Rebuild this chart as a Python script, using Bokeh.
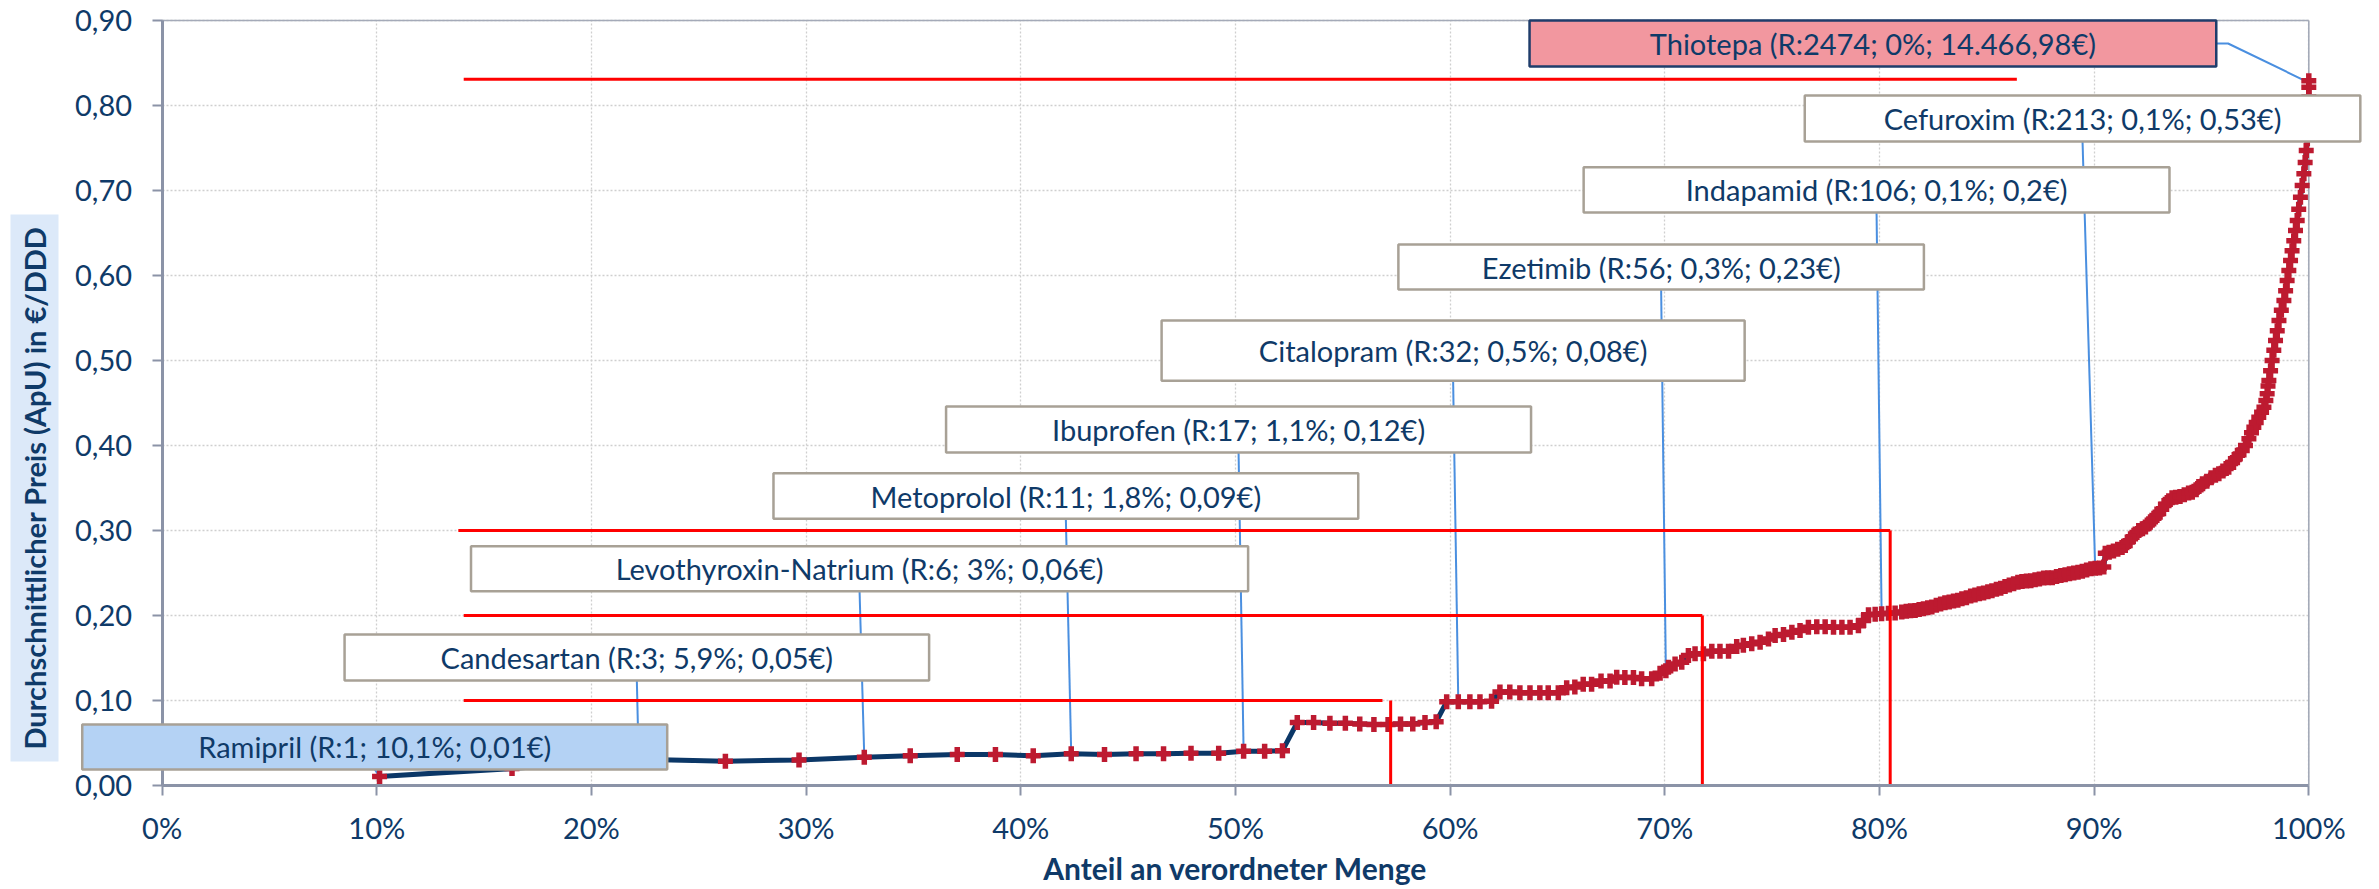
import math
from bokeh.plotting import figure
from bokeh.models import Range1d, FixedTicker, Label, BoxAnnotation
from bokeh.embed import file_html
from bokeh.resources import INLINE

# ---------------- data ----------------
share_pct = [
    10.13, 16.3, 22.2, 26.24, 29.67, 32.71, 34.85, 37.04, 38.82, 40.58, 42.35, 43.9,
    45.37, 46.65, 47.93, 49.22, 50.38, 51.36, 52.19,
    52.88, 53.64, 54.4, 55.12, 55.79, 56.45, 57.11, 57.69, 58.26, 58.83, 59.35,
    59.84, 60.38, 60.92, 61.39, 61.93,
    62.32, 62.78, 63.25, 63.72, 64.18, 64.57, 65.04,
    65.43, 65.81, 66.2, 66.59, 67.03, 67.45, 67.76, 68.14, 68.54, 68.92, 69.39,
    69.78, 70.05, 70.17, 70.48, 70.79, 71.1, 71.41, 71.8, 72.19, 72.57, 72.97,
    73.35, 73.66, 74.05, 74.44, 74.83, 75.14, 75.53, 75.92, 76.3, 76.69, 77.08,
    77.47, 77.86, 78.25, 78.63, 79.02, 79.26, 79.49, 79.8, 80.1, 80.42, 80.73,
    81.04, 81.25, 81.45, 81.66, 81.85, 82.05, 82.25, 82.44, 82.65, 82.85, 83.05,
    83.25, 83.45, 83.65, 83.84, 84.05, 84.25, 84.45, 84.65, 84.85, 85.05, 85.24,
    85.45, 85.65, 85.85, 86.05, 86.25, 86.45, 86.64, 86.85, 87.05, 87.25, 87.45,
    87.65, 87.85, 88.05, 88.25, 88.45, 88.65, 88.85, 89.05, 89.25, 89.45, 89.65,
    89.85, 90.05, 90.25, 90.45,
    90.52, 90.7, 90.9, 91.1, 91.3, 91.45, 91.6, 91.77, 91.92, 92.08, 92.25, 92.39,
    92.55, 92.7, 92.85, 93.01, 93.15, 93.32, 93.48, 93.63, 93.8, 94.0, 94.2, 94.4,
    94.57, 94.75, 94.88, 95.05, 95.25, 95.45, 95.65, 95.81, 96.0, 96.15, 96.27,
    96.45, 96.58, 96.75, 96.9, 97.05, 97.21, 97.33, 97.44, 97.55, 97.67, 97.8,
    97.91, 98.0, 98.06,
    98.1, 98.14, 98.22, 98.29, 98.37, 98.45, 98.53, 98.61, 98.72, 98.84, 98.92,
    98.99, 99.07, 99.15, 99.22, 99.3, 99.38, 99.46, 99.53, 99.61, 99.69, 99.77,
    99.83, 99.88, 99.93, 99.97, 99.99, 100.0, 100.0, 100.0, 100.0,
]
price_eur = [
    0.0106, 0.020, 0.031, 0.0286, 0.030, 0.0333, 0.035, 0.0365, 0.0365, 0.035, 0.0373, 0.0365,
    0.0373, 0.0373, 0.038, 0.038, 0.0404, 0.0404, 0.041,
    0.0741, 0.0741, 0.0733, 0.0733, 0.0725, 0.0718, 0.0718, 0.0725, 0.0725, 0.0741, 0.075,
    0.0985, 0.0984, 0.0984, 0.0984, 0.099,
    0.110, 0.110, 0.109, 0.109, 0.109, 0.109, 0.109,
    0.115, 0.116, 0.119, 0.119, 0.123, 0.123, 0.1275, 0.127, 0.127, 0.1255, 0.1255,
    0.132, 0.135, 0.139, 0.143, 0.145, 0.153, 0.155, 0.155, 0.158, 0.158, 0.158,
    0.1635, 0.165, 0.1667, 0.1686, 0.1725, 0.1765, 0.1776, 0.1804, 0.1824, 0.1863, 0.1867,
    0.1867, 0.1863, 0.1863, 0.1863, 0.188, 0.194, 0.201, 0.2016, 0.202, 0.2027, 0.203,
    0.204, 0.205, 0.2055, 0.206, 0.207, 0.208, 0.209, 0.210, 0.212, 0.2135, 0.215,
    0.216, 0.217, 0.218, 0.2196, 0.221, 0.223, 0.224, 0.2255, 0.2265, 0.228, 0.229,
    0.231, 0.232, 0.234, 0.236, 0.2375, 0.239, 0.240, 0.2405, 0.241, 0.242, 0.243,
    0.244, 0.2443, 0.2445, 0.246, 0.247, 0.248, 0.249, 0.250, 0.251, 0.252, 0.2535,
    0.255, 0.2555, 0.256, 0.257,
    0.2733, 0.2745, 0.276, 0.278, 0.280, 0.2824, 0.287, 0.292, 0.296, 0.300, 0.302, 0.304,
    0.308, 0.312, 0.316, 0.320, 0.325, 0.331, 0.335, 0.3385, 0.339, 0.340, 0.342, 0.344,
    0.345, 0.348, 0.3518, 0.355, 0.358, 0.362, 0.365, 0.3667, 0.370, 0.373, 0.3745,
    0.380, 0.3843, 0.389, 0.394, 0.400, 0.408, 0.415, 0.4215, 0.427, 0.4333, 0.439,
    0.445, 0.453, 0.4608,
    0.470, 0.4765, 0.488, 0.500, 0.512, 0.5235, 0.535, 0.547, 0.559, 0.5706, 0.582,
    0.594, 0.606, 0.6176, 0.629, 0.641, 0.653, 0.6647, 0.678, 0.692, 0.706, 0.7196,
    0.733, 0.747, 0.761, 0.7745, 0.786, 0.798, 0.810, 0.8215, 0.829,
]

x_ticks = [0, 10, 20, 30, 40, 50, 60, 70, 80, 90, 100]
x_tick_labels = ["0%", "10%", "20%", "30%", "40%", "50%", "60%", "70%", "80%", "90%", "100%"]
y_ticks = [0.0, 0.1, 0.2, 0.3, 0.4, 0.5, 0.6, 0.7, 0.8, 0.9]
y_tick_labels = ["0,00", "0,10", "0,20", "0,30", "0,40", "0,50", "0,60", "0,70", "0,80", "0,90"]

x_title = "Anteil an verordneter Menge"
y_title = "Durchschnittlicher Preis (ApU) in €/DDD"

drug_labels = [
    "Ramipril (R:1; 10,1%; 0,01€)",
    "Candesartan (R:3; 5,9%; 0,05€)",
    "Levothyroxin-Natrium (R:6; 3%; 0,06€)",
    "Metoprolol (R:11; 1,8%; 0,09€)",
    "Ibuprofen (R:17; 1,1%; 0,12€)",
    "Citalopram (R:32; 0,5%; 0,08€)",
    "Ezetimib (R:56; 0,3%; 0,23€)",
    "Indapamid (R:106; 0,1%; 0,2€)",
    "Cefuroxim (R:213; 0,1%; 0,53€)",
    "Thiotepa (R:2474; 0%; 14.466,98€)",
]
label_target_x = [10.13, 22.2, 32.71, 42.35, 50.38, 60.38, 70.05, 80.1, 90.05, 100.0]
label_target_y = [0.0106, 0.031, 0.0333, 0.0373, 0.0404, 0.0984, 0.135, 0.202, 0.2555, 0.827]

# reference lines (price level, start, end, drop-line position)
ref_level = [0.10, 0.20, 0.30, 0.831]
ref_start = [14.05, 14.05, 13.8, 14.05]
ref_end = [56.85, 71.75, 80.5, 86.4]
ref_drop = [57.23, 71.75, 80.5, None]

# ---------------- layout (label boxes, in data units) ----------------
box_left = [-3.72, 8.5, 14.39, 28.48, 36.52, 46.56, 57.59, 66.22, 76.52, 63.7]
box_right = [23.53, 35.73, 50.59, 55.72, 63.77, 73.72, 82.07, 93.51, 102.4, 95.69]
box_bottom = [0.0188, 0.1235, 0.2286, 0.3137, 0.3918, 0.4761, 0.5835, 0.6741, 0.7576, 0.8459]
box_top = [0.0718, 0.1776, 0.2815, 0.3674, 0.4459, 0.547, 0.6365, 0.7274, 0.8118, 0.900]
box_fill = ["#b4d2f4"] + ["#ffffff"] * 8 + ["#f2979f"]
box_line = ["#a8a196"] * 9 + ["#1f3d6b"]

FONT = "Lato"
NAVY = "#0f3a68"
AXIS = "#8b93a7"
BORDER = "#a4aab8"

# the frame covers the whole canvas; axes sit at fixed data locations
W, H = 2379, 889
PX_PER_PCT = 21.467          # horizontal scale
X0_PX = 161.6                # canvas x of 0 %
PX_PER_EUR = 850.0           # vertical scale
Y0_PX = 785.0                # canvas y of 0,00
x_lo = -X0_PX / PX_PER_PCT
x_hi = (W - X0_PX) / PX_PER_PCT
y_lo = -(H - Y0_PX) / PX_PER_EUR
y_hi = Y0_PX / PX_PER_EUR

def px_x(px):
    return (px - X0_PX) / PX_PER_PCT

def px_y(py):
    return (Y0_PX - py) / PX_PER_EUR

p = figure(width=W, height=H, x_range=Range1d(x_lo, x_hi), y_range=Range1d(y_lo, y_hi),
           output_backend="svg", toolbar_location=None,
           min_border_left=0, min_border_right=0, min_border_top=0, min_border_bottom=0)
p.outline_line_color = None
p.background_fill_color = "white"
p.border_fill_color = "white"

xa, ya = p.xaxis[0], p.yaxis[0]
xa.ticker = FixedTicker(ticks=x_ticks)
ya.ticker = FixedTicker(ticks=y_ticks)
xa.major_label_overrides = {t: s for t, s in zip(x_ticks, x_tick_labels)}
ya.major_label_overrides = {t: s for t, s in zip(y_ticks, y_tick_labels)}
xa.bounds = (x_ticks[0], x_ticks[-1])
ya.bounds = (y_ticks[0], y_ticks[-1])
xa.fixed_location = y_ticks[0]
ya.fixed_location = x_ticks[0]
for ax in (xa, ya):
    ax.axis_line_color = AXIS
    ax.axis_line_width = 3
    ax.major_tick_line_color = AXIS
    ax.major_tick_line_width = 2
    ax.major_tick_out = 10
    ax.major_tick_in = 0
    ax.minor_tick_line_color = None
    ax.major_label_text_font = FONT
    ax.major_label_text_font_size = "29px"
    ax.major_label_text_color = NAVY
xa.major_label_standoff = 14
ya.major_label_standoff = 20

xg, yg = p.xgrid[0], p.ygrid[0]
if "cross_bounds" in xg.properties():
    xg.cross_bounds = (y_ticks[0], y_ticks[-1])
    yg.cross_bounds = (x_ticks[0], x_ticks[-1])
    for g in (xg, yg):
        g.grid_line_color = "#cfcfcf"
        g.grid_line_dash = "2 2"
        g.grid_line_width = 1.3
else:
    xg.visible = False
    yg.visible = False
    p.segment(x0=x_ticks, y0=[y_ticks[0]] * len(x_ticks), x1=x_ticks, y1=[y_ticks[-1]] * len(x_ticks),
              line_color="#cfcfcf", line_dash="2 2", line_width=1.3)
    p.segment(x0=[x_ticks[0]] * len(y_ticks), y0=y_ticks, x1=[x_ticks[-1]] * len(y_ticks), y1=y_ticks,
              line_color="#cfcfcf", line_dash="2 2", line_width=1.3)

# plot-area border (top and right)
p.segment(x0=[x_ticks[0], x_ticks[-1]], y0=[y_ticks[-1], y_ticks[0]],
          x1=[x_ticks[-1], x_ticks[-1]], y1=[y_ticks[-1], y_ticks[-1]],
          line_color=BORDER, line_width=1.6)

# leader lines
lx, ly = [], []
for i in range(len(drug_labels)):
    tx, ty = label_target_x[i], label_target_y[i]
    if tx > box_right[i]:
        ym = (box_bottom[i] + box_top[i]) / 2
        lx.append([box_right[i], box_right[i] + 0.55, tx])
        ly.append([ym, ym, ty])
    else:
        cx = (box_left[i] + box_right[i]) / 2
        lx.append([cx, tx])
        ly.append([box_bottom[i], ty])
p.multi_line(lx, ly, line_color="#4a8fe0", line_width=2)

# curve
p.line(share_pct, price_eur, line_color="#0b3767", line_width=5)
p.scatter(share_pct, price_eur, marker="cross", size=15, line_width=5.5,
          line_color="#bd1a30")

# red reference lines
p.segment(x0=ref_start, y0=ref_level, x1=ref_end, y1=ref_level, line_color="#ff0000", line_width=3)
dx = [d for d in ref_drop if d is not None]
dy = [lv for lv, d in zip(ref_level, ref_drop) if d is not None]
p.segment(x0=dx, y0=[0] * len(dx), x1=dx, y1=dy, line_color="#ff0000", line_width=3)

# label boxes
for i in range(len(drug_labels)):
    p.add_layout(BoxAnnotation(left=box_left[i], right=box_right[i], bottom=box_bottom[i],
                               top=box_top[i], fill_color=box_fill[i], fill_alpha=1.0,
                               line_color=box_line[i], line_alpha=1.0, line_width=2.5))
for i, txt in enumerate(drug_labels):
    p.add_layout(Label(x=(box_left[i] + box_right[i]) / 2, y=(box_bottom[i] + box_top[i]) / 2,
                       text=txt, text_align="center", text_baseline="middle",
                       text_font=FONT, text_font_size="29px", text_color=NAVY))

# x-axis title, centred under the 0..100 % axis
p.add_layout(Label(x=(x_ticks[0] + x_ticks[-1]) / 2, y=px_y(867), text=x_title,
                   text_align="center", text_baseline="middle", text_font=FONT,
                   text_font_style="bold", text_font_size="30px", text_color=NAVY))

# y-axis title with light-blue background
p.add_layout(BoxAnnotation(left=px_x(10), right=px_x(58), bottom=px_y(761), top=px_y(214),
                           fill_color="#dce9f9", fill_alpha=1.0, line_alpha=0))
p.add_layout(Label(x=px_x(34), y=px_y(487.5), text=y_title, angle=math.pi / 2,
                   text_align="center", text_baseline="middle", text_font=FONT,
                   text_font_style="bold", text_font_size="29px", text_color=NAVY))

open("out.html", "w").write(file_html(p, INLINE))
